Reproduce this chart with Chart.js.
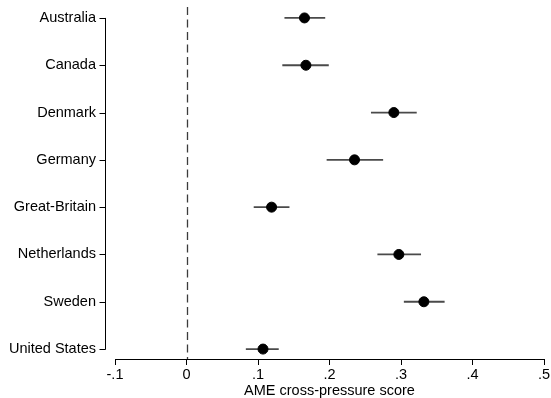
<!DOCTYPE html>
<html>
<head>
<meta charset="utf-8">
<script src="https://cdn.jsdelivr.net/npm/chart.js@4"></script>
<style>
html,body{margin:0;padding:0;background:#fff;}
#wrap{width:551px;height:398px;position:relative;}
</style>
</head>
<body>
<div id="wrap"><canvas id="c" width="551" height="398"></canvas></div>
<script>
const countries = ["Australia","Canada","Denmark","Germany","Great-Britain","Netherlands","Sweden","United States"];
const ame   = [0.165, 0.167, 0.290, 0.235, 0.119, 0.297, 0.332, 0.107];
const lower = [0.137, 0.134, 0.258, 0.196, 0.094, 0.267, 0.304, 0.083];
const upper = [0.194, 0.199, 0.322, 0.275, 0.144, 0.328, 0.361, 0.129];
const xTicks = [-0.1, 0, 0.1, 0.2, 0.3, 0.4, 0.5];

const FONT = "'Liberation Sans', Arial, Helvetica, sans-serif";

function fmt(v){
  let s = (Math.round(v*10)/10).toFixed(1);
  if (s === "0.0" || s === "-0.0") return "0";
  s = s.replace(/^(-?)0\./, "$1.");
  return s;
}

const decor = {
  id: 'decor',
  beforeDatasetsDraw(chart){
    const {ctx, chartArea, scales:{x, y}} = chart;
    ctx.save();
    // zero reference line
    const x0 = Math.round(x.getPixelForValue(0)) + 0.5;
    ctx.strokeStyle = '#3c3c3c';
    ctx.lineWidth = 1.3;
    ctx.setLineDash([8,4.5]);
    ctx.beginPath();
    ctx.moveTo(x0, chartArea.top - 1);
    ctx.lineTo(x0, chartArea.bottom);
    ctx.stroke();
    ctx.setLineDash([]);
    // error bars
    ctx.strokeStyle = '#4a4a4a';
    ctx.lineWidth = 1.8;
    for (let i = 0; i < countries.length; i++) {
      const py = y.getPixelForValue(i);
      ctx.beginPath();
      ctx.moveTo(x.getPixelForValue(lower[i]), py);
      ctx.lineTo(x.getPixelForValue(upper[i]), py);
      ctx.stroke();
    }
    // y axis line and ticks
    const ax = chartArea.left - 10 + 0.5;
    ctx.strokeStyle = '#000';
    ctx.lineWidth = 1;
    ctx.beginPath();
    ctx.moveTo(ax, y.getPixelForValue(0));
    ctx.lineTo(ax, y.getPixelForValue(countries.length - 1) + 0.5);
    ctx.stroke();
    for (let i = 0; i < countries.length; i++) {
      const py = Math.round(y.getPixelForValue(i)) + 0.5;
      ctx.beginPath();
      ctx.moveTo(ax - 6, py);
      ctx.lineTo(ax, py);
      ctx.stroke();
    }
    ctx.restore();
  }
};

new Chart(document.getElementById('c'), {
  type: 'scatter',
  data: {
    datasets: [{
      data: countries.map((c, i) => ({x: ame[i], y: i})),
      backgroundColor: '#000',
      borderColor: '#000',
      pointRadius: 5,
      pointHoverRadius: 5
    }]
  },
  options: {
    responsive: false,
    animation: false,
    events: [],
    layout: {padding: {top: 8, right: 7, left: 0, bottom: 0}},
    plugins: {legend: {display: false}, tooltip: {enabled: false}},
    scales: {
      x: {
        type: 'linear',
        min: -0.1, max: 0.5,
        afterBuildTicks(scale){ scale.ticks = xTicks.map(v => ({value: v})); },
        afterFit(scale){ scale.height = 39; scale.paddingLeft = 0; scale.paddingRight = 0; },
        grid: {display: true, drawOnChartArea: false, drawTicks: true, tickLength: 6, color: '#000', lineWidth: 1},
        border: {display: true, color: '#000', width: 1},
        ticks: {
          color: '#000', padding: 1, maxRotation: 0, autoSkip: false,
          font: {family: FONT, size: 14.5},
          callback: v => fmt(v)
        },
        title: {
          display: true, text: 'AME cross-pressure score', color: '#000',
          font: {family: FONT, size: 14.5, lineHeight: 1},
          padding: {top: 0, bottom: 0}
        }
      },
      y: {
        type: 'linear',
        reverse: true,
        min: -0.21, max: 7.21,
        afterBuildTicks(scale){ scale.ticks = countries.map((c, i) => ({value: i})); },
        afterFit(scale){ scale.width = 115; scale.paddingTop = 0; scale.paddingBottom = 0; },
        grid: {display: false, drawTicks: false},
        border: {display: false},
        ticks: {
          color: '#000', padding: 19, autoSkip: false,
          font: {family: FONT, size: 14.5},
          callback: v => countries[v]
        }
      }
    }
  },
  plugins: [decor]
});
</script>
</body>
</html>
